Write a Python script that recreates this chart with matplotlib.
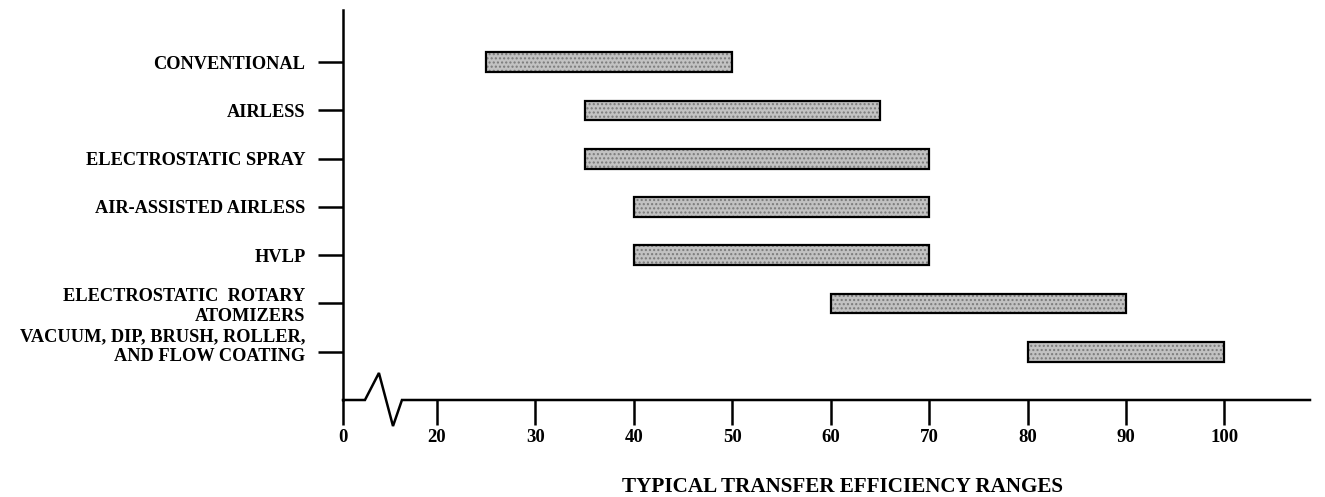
import matplotlib
matplotlib.use("Agg")
import matplotlib.pyplot as plt
from matplotlib.transforms import ScaledTranslation

# ---- data ----
categories = [
    "CONVENTIONAL",
    "AIRLESS",
    "ELECTROSTATIC SPRAY",
    "AIR-ASSISTED AIRLESS",
    "HVLP",
    "ELECTROSTATIC  ROTARY\nATOMIZERS",
    "VACUUM, DIP, BRUSH, ROLLER,\nAND FLOW COATING",
]
low = [25, 35, 35, 40, 40, 60, 80]
high = [50, 65, 70, 70, 70, 90, 100]
tick_values = [20, 30, 40, 50, 60, 70, 80, 90, 100]
tick_labels = ["20", "30", "40", "50", "60", "70", "80", "90", "100"]
zero_label = "0"
xlabel = "TYPICAL TRANSFER EFFICIENCY RANGES"

# ---- layout ----
W, H = 1325, 497
fig = plt.figure(figsize=(W / 100, H / 100), dpi=100)
serif = ["Liberation Serif", "DejaVu Serif"]

x_zero = 10.45          # position where the broken axis shows "0"
x_max = 108.7
ax_left, ax_right = 343 / W, 1310 / W
ax_bottom, ax_top = 1 - 400 / H, 1 - 10 / H
ax = fig.add_axes([ax_left, ax_bottom, ax_right - ax_left, ax_top - ax_bottom])

n = len(categories)
ypos = list(range(n))
ax.set_xlim(x_zero, x_max)
ax.set_ylim(n, -1.08)

widths = [h - l for l, h in zip(low, high)]
bar_h = 0.41
ax.barh(ypos, widths, left=low, height=bar_h, color="#c2c2c2",
        edgecolor="#7a7a7a", hatch="....", linewidth=0, zorder=2)
ax.barh(ypos, widths, left=low, height=bar_h, fill=False,
        edgecolor="black", linewidth=1.6, zorder=3)

# spines
for s in ["top", "right", "bottom"]:
    ax.spines[s].set_visible(False)
ax.spines["left"].set_linewidth(1.8)
ax.spines["left"].set_position(("data", x_zero))

# y ticks
ax.set_yticks(ypos)
ax.set_yticklabels(categories, fontfamily=serif, fontsize=13.2,
                   fontweight="bold", linespacing=1.2)
ax.tick_params(axis="y", direction="out", length=18, width=1.8, pad=9)
# last label sits slightly above its tick in the reference
last = ax.get_yticklabels()[-1]
last.set_transform(last.get_transform() +
                   ScaledTranslation(0, 8 / 100, fig.dpi_scale_trans))

# x ticks (broken axis)
ax.set_xticks([x_zero] + tick_values)
ax.set_xticklabels([zero_label] + tick_labels, fontfamily=serif,
                   fontsize=13.5, fontweight="bold")
ax.tick_params(axis="x", direction="out", length=18, width=1.8, pad=3)

# x axis line with break zigzag
zig_x = [x_zero, 12.68, 14.10, 15.53, 16.44, x_max]
zig_y = [n, n, n - 0.56, n + 0.54, n, n]
ax.plot(zig_x, zig_y, color="black", linewidth=1.8, clip_on=False,
        solid_joinstyle="miter", zorder=4)

fig.text(842 / W, 1 - 487 / H, xlabel, ha="center", va="center",
         fontfamily=serif, fontsize=15.2, fontweight="bold")

fig.savefig("out.png", dpi=100)
